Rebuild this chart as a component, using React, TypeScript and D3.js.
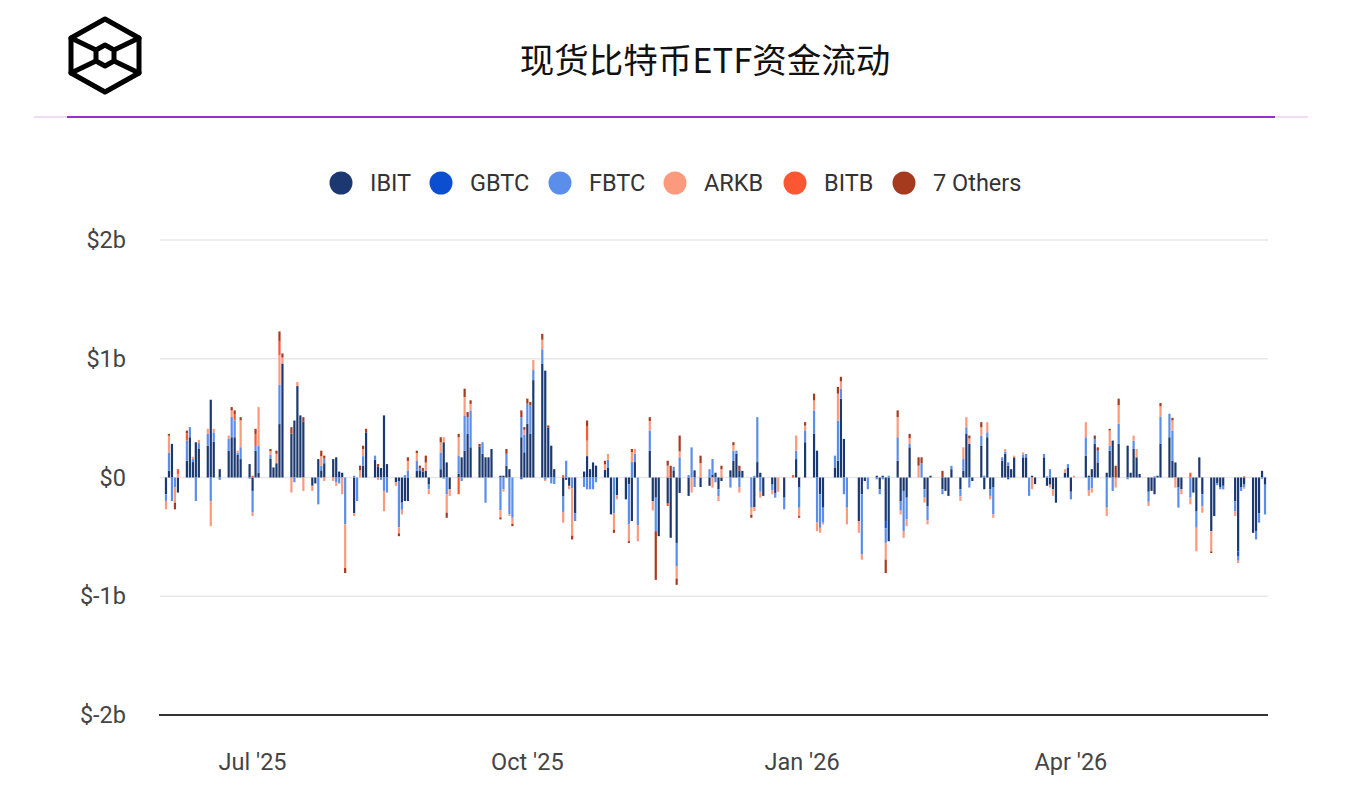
import React from "react";
import * as d3 from "d3";

// ---------- DATA (values in $ millions) ----------
const dates = [
  // Jun 2025
  "2025-06-02","2025-06-03","2025-06-04","2025-06-05","2025-06-06","2025-06-09","2025-06-10","2025-06-11","2025-06-12","2025-06-13","2025-06-16","2025-06-17","2025-06-18","2025-06-20","2025-06-23","2025-06-24","2025-06-25","2025-06-26","2025-06-27","2025-06-30",
  // Jul
  "2025-07-01","2025-07-02","2025-07-03","2025-07-07","2025-07-08","2025-07-09","2025-07-10","2025-07-11","2025-07-14","2025-07-15","2025-07-16","2025-07-17","2025-07-18","2025-07-21","2025-07-22","2025-07-23","2025-07-24","2025-07-25","2025-07-28","2025-07-29","2025-07-30","2025-07-31",
  // Aug
  "2025-08-01","2025-08-04","2025-08-05","2025-08-06","2025-08-07","2025-08-08","2025-08-11","2025-08-12","2025-08-13","2025-08-14","2025-08-15","2025-08-18","2025-08-19","2025-08-20","2025-08-21","2025-08-22","2025-08-25","2025-08-26","2025-08-27","2025-08-28","2025-08-29",
  // Sep
  "2025-09-02","2025-09-03","2025-09-04","2025-09-05","2025-09-08","2025-09-09","2025-09-10","2025-09-11","2025-09-12","2025-09-15","2025-09-16","2025-09-17","2025-09-18","2025-09-19","2025-09-22","2025-09-23","2025-09-24","2025-09-25","2025-09-26","2025-09-29","2025-09-30",
  // Oct
  "2025-10-01","2025-10-02","2025-10-03","2025-10-06","2025-10-07","2025-10-08","2025-10-09","2025-10-10","2025-10-13","2025-10-14","2025-10-15","2025-10-16","2025-10-17","2025-10-20","2025-10-21","2025-10-22","2025-10-23","2025-10-24","2025-10-27","2025-10-28","2025-10-29","2025-10-30","2025-10-31",
  // Nov
  "2025-11-03","2025-11-04","2025-11-05","2025-11-06","2025-11-07","2025-11-11","2025-11-12","2025-11-13","2025-11-14","2025-11-17","2025-11-18","2025-11-19","2025-11-20","2025-11-21","2025-11-24","2025-11-25","2025-11-26","2025-11-28",
  // Dec
  "2025-12-01","2025-12-02","2025-12-03","2025-12-04","2025-12-05","2025-12-08","2025-12-09","2025-12-10","2025-12-11","2025-12-12","2025-12-15","2025-12-16","2025-12-17","2025-12-18","2025-12-19","2025-12-22","2025-12-23","2025-12-24","2025-12-26","2025-12-29","2025-12-30","2025-12-31",
  // Jan 2026
  "2026-01-02","2026-01-05","2026-01-06","2026-01-07","2026-01-08","2026-01-12","2026-01-13","2026-01-14","2026-01-15","2026-01-16","2026-01-20","2026-01-21","2026-01-22","2026-01-23","2026-01-26","2026-01-27","2026-01-28","2026-01-29","2026-01-30",
  // Feb
  "2026-02-02","2026-02-03","2026-02-04","2026-02-05","2026-02-06","2026-02-09","2026-02-10","2026-02-11","2026-02-12","2026-02-13","2026-02-17","2026-02-18","2026-02-19","2026-02-20","2026-02-23","2026-02-24","2026-02-25","2026-02-26","2026-02-27",
  // Mar
  "2026-03-02","2026-03-03","2026-03-04","2026-03-05","2026-03-06","2026-03-09","2026-03-10","2026-03-11","2026-03-12","2026-03-13","2026-03-16","2026-03-17","2026-03-18","2026-03-19","2026-03-20","2026-03-23","2026-03-24","2026-03-25","2026-03-26","2026-03-27","2026-03-30","2026-03-31",
  // Apr
  "2026-04-01","2026-04-02","2026-04-06","2026-04-07","2026-04-08","2026-04-09","2026-04-10","2026-04-13","2026-04-14","2026-04-15","2026-04-16","2026-04-17","2026-04-20","2026-04-21","2026-04-22","2026-04-23","2026-04-24","2026-04-27","2026-04-28","2026-04-29","2026-04-30",
  // May
  "2026-05-01","2026-05-04","2026-05-05","2026-05-06","2026-05-07","2026-05-08","2026-05-11","2026-05-12","2026-05-13","2026-05-14","2026-05-15","2026-05-18","2026-05-19","2026-05-20","2026-05-21","2026-05-22","2026-05-26","2026-05-27","2026-05-28","2026-05-29",
  // Jun 2026
  "2026-06-01","2026-06-02","2026-06-03","2026-06-04","2026-06-05",
];

const ibit = [
  -141, 56, 283, 0, -127, 141, 339, 130, 297, 240, 268, 655, 300, 70, 226, 339, 339, 190, 155, 113,
  -113, 226, 40, 160, 85, 120, 450, 960, 370, 480, 770, 523, 470, -70, -50, 155, 60, 120, 155, 170, 50, 40,
  0, -300, 0, 0, 100, 380, 150, 90, 80, 523, 113, -40, -30, -212, -198, -198, 56, 60, 50, 56, -60,
  70, 297, 127, -100, 30, 170, 226, 367, 254, 260, 200, 170, 170, 240, 15, 15, 100, 70, 0, 339, 212,
  452, 367, 820, 960, 900, 420, 268, 70, -160, -20, -70, 0, -300, 50, 180, 70, 127, 100, 65, 80, -311, 0, -150,
  -184, -56, -367, 130, 0, 226, -200, -170, -494, -220, -508, 60, -551, -130, -155, 0, 60, -80,
  -70, 25, 40, -100, -30, 60, 141, 200, 60, 56, 0, -250, 130, 40, -155, -60, -130, 0, -170, 0, 155, -85,
  297, 367, 226, -141, -254, 85, 141, 664, 325, 0, -367, -141, -30, 0, 15, -100, 15, -367, -537,
  141, -198, -113, -170, 254, 0, 0, -100, -240, 15, -100, -113, -155, 70, -100, 56, 367, 283, -30,
  268, -99, 339, -100, -85, 141, 200, 100, 70, 170, 170, 170, 0, 15, -56, 170, -70, -60, -100, -212, 40, 80,
  -120, 0, 184, 15, 70, 283, 127, 40, 226, 311, 0, 283, 268, 40, 240, 170, 30, -120, -113, -141, 15,
  283, 339, 141, 127, -85, -100, 0, -127, -282, 170, -141, -452, -325, -50, -80, -70, -200, -621, -80, -60,
  -466, -450, -300, 56, -61,
];

const gbtc = [
  0, 0, 0, 0, 0, 0, 0, 0, 0, 0, 0, 0, 0, 0, 0, 0, 0, 0, 0, 0,
  0, 0, 0, 0, 0, 0, 0, 0, 0, 0, 0, 0, 0, 0, 0, 0, 0, 0, 0, 0, 0, 0,
  0, 0, 0, 0, 0, 0, 0, 0, 0, 0, 0, 0, 0, 0, 0, 0, 0, 0, 0, 0, 0,
  0, 0, 0, 0, 0, 0, 0, 0, 0, 0, 0, 0, 0, 0, 0, 0, 0, 0, 0, -15, 0,
  0, 0, 0, 0, 0, 0, 0, 0, 0, 0, 0, 0, 0, 0, 0, 0, 0, 0, 0, 0, 0, 0, 0,
  0, 0, 0, 0, 0, 0, 0, 0, 0, 0, 0, 0, 0, 0, 0, 0, 0, 0,
  0, 0, 0, 0, 0, 0, 0, 0, 0, 0, 0, 0, 0, 0, 0, 0, 0, 0, 0, 0, 0, 0,
  0, 0, 0, 0, 0, 0, 0, 0, 0, 0, 0, 0, 0, 0, 0, 0, 0, -60, 0,
  0, 0, 0, 0, 0, 0, 0, 0, 0, 0, 0, 0, 0, 0, 0, 0, 0, 0, 0,
  0, 0, 0, 0, 0, 0, 0, -15, 0, 0, 0, 0, 0, 0, 0, 0, 0, 0, 0, 0, 0, 0,
  0, 0, 0, 0, 0, 0, 0, 0, 0, 0, 0, 0, 0, 0, 0, 0, 0, 0, 0, 0, 0,
  0, 0, 0, 0, 0, 0, 0, 0, 0, 0, 0, 0, 0, 0, 0, 0, 0, -40, 0, 0,
  0, 0, 0, 0, 0,
];

const fbtc = [
  -56, 155, -198, -85, 0, 170, 85, 25, -198, 50, 100, -198, 80, -20, 100, 170, 141, 20, 100, -10,
  -183, 40, 226, 30, 0, 0, 330, 0, 0, -40, 0, 0, 0, 0, 0, -226, 40, 40, 0, -40, -50, 0,
  -395, 15, -198, 0, 80, 0, 34, 0, -20, -113, -127, 0, -390, -60, 20, 60, 85, 20, 0, 0, -40,
  141, -10, -141, 0, 155, -30, 297, 141, 310, 0, 97, -212, 0, 0, -276, -99, 100, -310, -340, 170, 150,
  170, 240, 85, 120, -20, 0, -50, -55, -130, 141, 0, -90, -67, -80, -100, -99, -99, -40, 0, 70, 0, -300, 0,
  0, -340, 130, 70, -400, 170, 0, -282, 0, 0, 0, 30, -200, 170, 20, 254, -80, 0,
  70, 130, -40, -60, 0, -85, 85, 26, -80, 0, -255, 15, 378, -120, 0, -50, -40, 0, -98, 0, 70, -170,
  100, 198, -380, -283, -127, 99, 339, 85, -141, -254, 0, -508, 0, -99, -15, -41, -15, -124, 15,
  198, -80, -339, -184, 28, 0, 120, -70, -120, 0, -41, 0, 0, 29, -60, 99, 56, -85, 0,
  85, 15, 42, -55, -226, 29, 20, 27, 0, 0, 25, 28, -155, 0, 0, 28, 10, 70, 0, 0, 0, 33,
  -64, 0, 155, -110, -90, 40, 99, -254, 42, -113, 0, 170, -15, 0, 70, 0, 0, -85, 0, 10, 0,
  226, 198, 254, 0, -169, 0, -170, 0, -141, 0, -100, 0, 0, -15, -19, -30, -85, -40, -33, -25,
  0, -72, -81, -10, -250,
];

const arkb = [
  -71, 141, 0, -127, 30, 0, 0, 20, 0, 26, 42, -212, 30, 0, 27, 56, 0, 16, 226, 0,
  -29, 0, 327, 30, 0, 80, 250, 50, -127, 0, 35, 0, -113, -43, 0, 0, 80, -30, -30, -30, 0, -141,
  -367, -25, 0, 60, 60, 0, 0, -20, 0, -170, 0, -30, -50, -39, 0, 80, 65, 0, 0, 70, -41,
  85, 42, -155, -55, 155, 0, 155, 0, 56, 0, 0, 0, 0, 0, -60, -20, 0, -15, -50, 0, 40,
  0, 0, 84, 80, -10, 0, 0, 0, -91, 0, -29, -400, 0, 0, 130, 0, 0, 0, 45, 48, 0, -140, -34,
  0, -140, 85, 40, -137, 80, -78, 0, 0, 100, 0, 0, -100, 50, 0, -127, 0, 120,
  0, -85, 0, -38, 70, 0, 45, 0, -47, 0, -60, -33, 0, -50, 0, -31, 0, -120, 0, 0, 128, -70,
  40, 85, -72, -42, -14, 0, 226, 60, 0, -141, -99, -43, 0, 0, 0, 0, 0, -141, 0,
  170, -33, -56, -56, 50, 100, 0, -42, -35, 0, 0, 0, 0, 0, -38, 99, 85, 45, 0,
  70, 0, 85, -29, -28, 0, 20, 0, 0, 14, 17, 0, 0, -99, 0, 0, 0, -25, -55, 0, 30, 0,
  0, 15, 127, -45, -37, 0, 0, -71, 127, 0, -85, 155, 0, 0, 43, 70, 0, -35, 0, 0, 0,
  90, 0, 85, -85, 0, -41, -56, 0, -198, 0, -56, -170, 0, 0, 0, 0, -40, -20, 0, -10,
  0, 0, 0, 0, 0,
];

const bitb = [
  0, 0, 0, 0, 40, 60, 0, 0, 0, 0, 0, 0, 0, 0, 0, 0, 50, 0, 0, 0,
  15, 100, 0, 0, 0, 0, 120, 0, 0, 0, 0, 0, 0, 0, 0, 0, 0, 0, 0, 0, 0, 0,
  0, 0, 0, 0, 0, 0, 0, 0, 0, 0, 0, 0, 0, 0, 0, 0, 0, 0, 0, 0, 0,
  0, 0, 0, 0, -141, 0, 0, 0, 0, 0, 0, 0, 0, 0, 0, 0, 0, 0, 0, 0, 0,
  0, 0, 0, 0, 0, 0, 0, 0, 20, 0, 0, 0, 0, 0, 120, 0, 0, 0, 0, 0, 0, 0, 0,
  0, 0, 0, 0, 0, 0, 0, 0, 0, -20, 0, 0, 0, 0, 0, 0, 0, 0,
  0, 0, 0, 0, 0, 0, 0, 0, 0, 0, 0, 0, 0, 0, 0, 0, 0, 0, 0, 20, 0, 0,
  0, 0, 0, 0, 0, 0, 0, 0, 0, 0, 0, 0, 0, 0, 0, 0, 0, 0, 0,
  0, 0, 0, 0, 0, 0, 0, 0, 0, 0, 0, 0, 0, 0, 0, 0, 0, 0, 0,
  0, 0, 0, 0, 0, 0, 0, 0, 0, 0, 0, 0, 0, 0, 0, 0, 0, 0, 0, 0, 0, 0,
  0, 0, 0, 0, 0, 0, 0, 0, 0, 0, 0, 0, 0, 0, 0, 0, 0, 0, 0, 0, 0,
  0, 0, 0, 0, 0, 0, 40, 0, 0, 0, 0, 0, 0, 0, 0, 0, 0, 0, 0, 10,
  0, 0, 0, 0, 0,
];

const others = [
  0, 15, 0, -56, 0, 24, 0, 0, 0, 0, 0, 0, 0, 0, 0, 28, 35, 0, 27, 0,
  0, 44, 0, 20, 0, 26, 80, 35, 54, 0, 0, 0, 38, 0, 0, 0, 46, 24, 0, 0, 0, 0,
  -42, 0, 0, 40, 28, 30, 0, 23, 0, 0, 0, 0, -24, 0, 0, 30, 20, 20, 30, 58, 0,
  43, 0, -43, 0, 27, 0, 70, 43, 30, 23, 0, 0, 0, 0, -17, 0, 40, 0, -20, 56, 22,
  42, 29, 0, 50, 0, 18, 0, 0, 0, 0, 0, -32, 0, 0, 50, 0, 0, 0, 31, 0, 0, -26, 0,
  0, -15, 25, 0, 0, 32, 0, -410, 0, 41, 99, 0, -53, 133, 0, 0, 0, 64,
  0, 0, 0, 0, 29, 0, 26, 0, 39, 0, -24, 0, 0, 0, 0, 0, 0, 0, 0, 0, 0, -14,
  29, 56, 0, 0, 0, 0, 57, 39, 0, 0, 0, 0, 0, 0, 0, 0, 0, -113, 0,
  56, 0, 0, 0, 35, 70, 50, 0, 0, 0, 56, 0, 0, 0, 0, 0, 0, 25, 0,
  43, 0, 0, 0, 0, 0, 0, 0, 0, 0, 0, 0, 0, 0, 0, 0, 0, 0, 0, 0, 0, 0,
  0, 0, 0, 0, 0, 30, 28, 0, 15, 0, 99, 56, 0, 0, 0, 0, 0, 0, 0, 0, 0,
  28, 0, 23, 0, 0, 0, 0, 0, 0, 0, 0, -14, 0, 0, 0, 0, 0, 0, 0, 0,
  0, 0, 0, 0, 0,
];

const seriesKeys = ["IBIT", "GBTC", "FBTC", "ARKB", "BITB", "7 Others"];
const seriesColors = ["#1b3970", "#0b4fd0", "#5b8eeb", "#fc9a7e", "#fd5633", "#a63a1f"];
const yTicks = [-2000, -1000, 0, 1000, 2000];
const yTickLabels = ["$-2b", "$-1b", "$0", "$1b", "$2b"];
const xTicks = ["2025-07-01", "2025-10-01", "2026-01-01", "2026-04-01"];
const xTickLabels = ["Jul '25", "Oct '25", "Jan '26", "Apr '26"];
const title = "现货比特币ETF资金流动";

const FONT = "Roboto, 'Noto Sans', sans-serif";

export default function App() {
  const parse = d3.timeParse("%Y-%m-%d");
  const seriesData = [ibit, gbtc, fbtc, arkb, bitb, others];
  const rows = dates.map((d, i) => {
    const r: any = { date: parse(d) };
    seriesKeys.forEach((k, j) => (r[k] = seriesData[j][i] ?? 0));
    return r;
  });

  const x = d3
    .scaleTime()
    .domain([new Date(2025, 4, 31), new Date(2026, 5, 6)])
    .range([160, 1268]);
  const y = d3.scaleLinear().domain([-2000, 2000]).range([715, 240]);

  const layers = d3
    .stack<any>()
    .keys(seriesKeys)
    .offset(d3.stackOffsetDiverging)(rows);

  const barW = 2.2;

  const legendX = [341, 441, 560, 675, 795, 904];

  return (
    <svg
      width={1350}
      height={789}
      style={{ position: "absolute", left: 0, top: 0, background: "#fff" }}
      fontFamily={FONT}
    >
      <rect x={0} y={0} width={1350} height={789} fill="#ffffff" />
      {/* logo */}
      <g fill="none" stroke="#000" strokeWidth={5} strokeLinejoin="round" strokeLinecap="round">
        <path d="M105,19 L139,38 L139,73 L105,92 L71,73 L71,38 Z" />
        <path d="M71,38 L96,50 M139,38 L114,50 M71,73 L96,61 M139,73 L114,61" />
        <path d="M105,45 L114,50 L114,61 L105,66 L96,61 L96,50 Z" />
      </g>
      <text
        x={705}
        y={73}
        textAnchor="middle"
        fontSize={34.5}
        fill="#111"
        fontFamily="'Noto Sans CJK SC', 'Noto Sans', sans-serif"
      >
        {title}
      </text>
      <line x1={34} x2={1308} y1={117} y2={117} stroke="#f1dcf6" strokeWidth={2} />
      <line x1={67} x2={1275} y1={117} y2={117} stroke="#9b2bd5" strokeWidth={2} />

      {/* legend */}
      {seriesKeys.map((k, i) => (
        <g key={k}>
          <circle cx={legendX[i]} cy={183} r={11.5} fill={seriesColors[i]} />
          <text x={legendX[i] + 29} y={191} fontSize={23.5} fill="#333">
            {k}
          </text>
        </g>
      ))}

      {/* grid */}
      {yTicks.map((t, i) => (
        <g key={t}>
          {t !== -2000 && (
            <line x1={160} x2={1268} y1={y(t)} y2={y(t)} stroke="#e8e8e8" strokeWidth={1.5} />
          )}
          <text x={126} y={y(t) + 8} textAnchor="end" fontSize={23.5} fill="#444">
            {yTickLabels[i]}
          </text>
        </g>
      ))}

      {/* bars */}
      {layers.map((layer, li) => (
        <g key={layer.key} fill={seriesColors[li]}>
          {layer.map((seg, si) => {
            const y0 = y(seg[0]);
            const y1 = y(seg[1]);
            const h = Math.abs(y0 - y1);
            if (!(h > 0)) return null;
            return (
              <rect
                key={si}
                x={x(rows[si].date) - barW / 2}
                y={Math.min(y0, y1)}
                width={barW}
                height={h}
              />
            );
          })}
        </g>
      ))}

      {/* axis line */}
      <line x1={159} x2={1268} y1={y(-2000)} y2={y(-2000)} stroke="#333" strokeWidth={2} />

      {xTicks.map((t, i) => (
        <text key={t} x={x(parse(t)!)} y={770} textAnchor="middle" fontSize={23.5} fill="#444">
          {xTickLabels[i]}
        </text>
      ))}
    </svg>
  );
}
